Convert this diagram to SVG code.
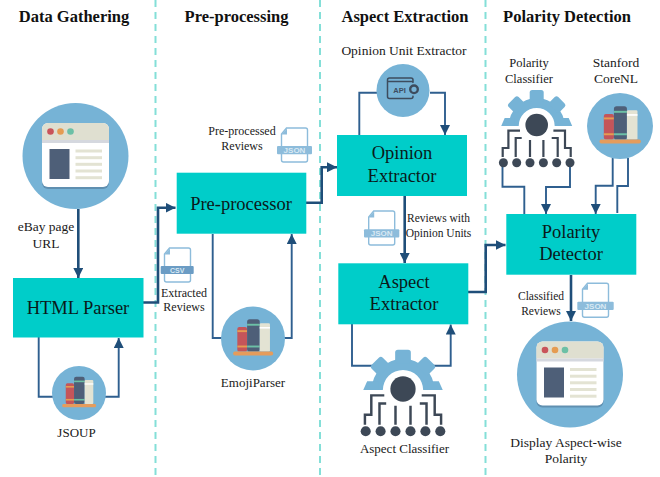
<svg xmlns="http://www.w3.org/2000/svg" width="660" height="477" viewBox="0 0 660 477">
<style>
text{font-family:"Liberation Serif","Times New Roman",serif;fill:#1a1a1a;text-anchor:middle}
.h{font-size:16.500px;font-weight:bold;fill:#111}
.b{font-size:18.500px;fill:#0a1a1a}
.s{font-size:12px}
.m{font-size:13px}
.l{font-size:13.500px}
.box{fill:#00cdc9}
.sep{stroke:#84dfd8;stroke-width:2;stroke-dasharray:7 5;fill:none}
.th{fill:none;stroke:#1f4e79;stroke-width:2.6}
.tn{fill:none;stroke:#2f5f8f;stroke-width:1.9}
.ic{font-family:"Liberation Sans",Arial,sans-serif;font-weight:bold;font-size:8px;fill:#d9e9f3}
.doc{fill:#fff;stroke:#8dbcdb;stroke-width:1.4}
.cir{stroke:#3d4856;stroke-width:2.2;fill:none}
</style>
<defs>
<marker id="a" markerUnits="userSpaceOnUse" markerWidth="11" markerHeight="10" refX="10" refY="5" orient="auto"><path d="M0 0L10 5L0 10Z" fill="#1f4e79"/></marker>
<g id="browser">
<circle r="53" fill="#76b3d6"/>
<rect x="-33.5" y="-31" width="67" height="64" rx="6" fill="#5f8fb0"/>
<rect x="-33.5" y="-33" width="67" height="64" rx="6" fill="#fff"/>
<path d="M-33.5-16V-27a6 6 0 0 1 6-6H27.5a6 6 0 0 1 6 6V-16Z" fill="#dfdfd0"/>
<rect x="-33.5" y="-16" width="67" height="3" fill="#d5d8df"/>
<circle cx="-25" cy="-24.500" r="3.300" fill="#c9545a"/><circle cx="-15" cy="-24.500" r="3.300" fill="#e59c52"/><circle cx="-5" cy="-24.500" r="3.300" fill="#6cc0a6"/>
<rect x="-26" y="-7" width="20" height="30" fill="#4e5f78"/>
<g fill="#e3e3d3"><rect y="-6.500" width="26.500" height="3"/><rect y="0.200" width="26.500" height="3"/><rect y="6.800" width="26.500" height="3"/><rect y="13.500" width="26.500" height="3"/><rect y="20.200" width="26.500" height="3"/></g>
</g>
<g id="books">
<circle r="50" fill="#76b3d6"/>
<rect x="-24.500" y="-18" width="15.300" height="38.500" rx="3" fill="#c4555a"/><rect x="-24.500" y="-13" width="15.300" height="3" fill="#e59c52"/><rect x="-24.500" y="11" width="15.300" height="3" fill="#e59c52"/>
<rect x="-9.200" y="-30" width="19.700" height="50.500" rx="4" fill="#4e5f78"/><rect x="-9.200" y="-23" width="19.700" height="3" fill="#6cc0a6"/><rect x="-9.200" y="11" width="19.700" height="3" fill="#6cc0a6"/>
<rect x="10.500" y="-24" width="16" height="44.500" rx="2" fill="#e3e3d3"/><rect x="10.500" y="-18" width="16" height="2.500" fill="#fff"/>
<rect x="-31" y="20.500" width="62.500" height="6" rx="2.500" fill="#e59c5c"/>
</g>
<g id="gear">
<g fill="#76b3d6">
<path d="M-28 1A28 28 0 0 1 28 1H18A18 18 0 0 0 -18 1Z"/>
<path d="M-35.500 1L-32-7H-22V1ZM35.500 1L32-7H22V1Z"/>
<rect x="-7" y="-35" width="14" height="12" rx="2.500"/>
<rect x="-7" y="-35" width="14" height="12" rx="2.500" transform="rotate(45)"/>
<rect x="-7" y="-35" width="14" height="12" rx="2.500" transform="rotate(-45)"/>
</g>
<circle r="11.300" fill="#3d4856"/>
<path class="cir" d="M-16.700 5.700H-28.300V23H-34V32M-15 13H-21V32M-6.700 15V32M16.700 5.700H28.300V23H34V32M15 13H21V32M6.700 15V32"/>
<g fill="#3d4856"><circle cx="-33.300" cy="37.700" r="4.500"/><circle cx="-20" cy="37.700" r="4.500"/><circle cx="-6.700" cy="37.700" r="4.500"/><circle cx="6.700" cy="37.700" r="4.500"/><circle cx="20" cy="37.700" r="4.500"/><circle cx="33.300" cy="37.700" r="4.500"/></g>
</g>
<g id="file">
<path class="doc" d="M-8-17H11a2 2 0 0 1 2 2V15a2 2 0 0 1-2 2H-11a2 2 0 0 1-2-2V-11Z"/>
<path d="M-7.500-16.500V-10.500H-13Z" fill="#8dbcdb"/>
</g>
</defs>
<g id="separators">
<path class="sep" d="M155.500 0V477M320 0V477M485.500 0V477"/>
</g>
<g id="headers">
<text class="h" x="74" y="22">Data Gathering</text>
<text class="h" x="236.500" y="22">Pre-processing</text>
<text class="h" x="405" y="22">Aspect Extraction</text>
<text class="h" x="567" y="22">Polarity Detection</text>
</g>
<g id="connectors">
<path class="th" d="M78.300 209V278" marker-end="url(#a)"/>
<path class="th" d="M143 302.500H158V207.700H175.500" marker-end="url(#a)"/>
<path class="th" d="M306 202.700H321.700V167.300H337" marker-end="url(#a)"/>
<path class="th" d="M404.700 196V263" marker-end="url(#a)"/>
<path class="th" d="M468 292H485.700V245H505.500" marker-end="url(#a)"/>
<path class="th" d="M571 275V321" marker-end="url(#a)"/>
<path class="tn" d="M38.700 337V396.700H53"/>
<path class="tn" d="M105 396.700H118.700V338" marker-end="url(#a)"/>
<path class="tn" d="M212.700 234V338H222"/>
<path class="tn" d="M284 338H291.700V234" marker-end="url(#a)"/>
<path class="tn" d="M377 92.700H359.300V135"/>
<path class="tn" d="M430 92.700H445V135" marker-end="url(#a)"/>
<path class="tn" d="M352 324V365.700H373"/>
<path class="tn" d="M432 365.700H450.700V324.500" marker-end="url(#a)"/>
<path class="tn" d="M502.500 163V186.700H524.300V214"/>
<path class="tn" d="M570 163V187H546V214" marker-end="url(#a)"/>
<path class="tn" d="M612.700 158V185.700H595.700V214" marker-end="url(#a)"/>
<path class="tn" d="M628 158V186H617.300V213"/>
</g>
<g id="ebay-page"><use href="#browser" transform="translate(75.500 156)"/>
<text class="l" x="46" y="231">eBay page</text><text class="l" x="46" y="248">URL</text></g>
<g id="html-parser"><rect class="box" x="13" y="278" width="130.500" height="59.500"/><text class="b" x="78" y="314">HTML Parser</text></g>
<g id="jsoup"><use href="#books" transform="translate(79 393) scale(.54)"/><text class="m" x="76.500" y="437">JSOUP</text></g>
<g id="csv-extracted"><use href="#file" transform="translate(177.500 265)"/><rect x="160.700" y="266" width="33" height="8" rx="1" fill="#6b9cc4"/><text class="ic" style="font-size:7px" x="177.200" y="272.500">CSV</text>
<text class="s" x="184" y="297">Extracted</text><text class="s" x="184" y="311">Reviews</text></g>
<g id="pre-processor"><rect class="box" x="176.700" y="172.700" width="129.600" height="61"/><text class="b" x="241" y="210">Pre-processor</text></g>
<g id="emoji-parser"><use href="#books" transform="translate(253 338.500) scale(.64)"/><text class="m" x="253" y="387">EmojiParser</text></g>
<g id="json-preprocessed"><use href="#file" transform="translate(294.500 145)"/><rect x="277" y="146" width="35" height="8.300" rx="1" fill="#8dbcdb"/><text class="ic" x="294.500" y="153">JSON</text>
<text class="s" x="242" y="135">Pre-processed</text><text class="s" x="242" y="150">Reviews</text></g>
<g id="opinion-unit-extractor"><text class="l" x="404" y="55">Opinion Unit Extractor</text><circle cx="403" cy="90.500" r="26.500" fill="#76b3d6"/>
<rect x="387.500" y="78" width="25.500" height="20.500" rx="2" fill="none" stroke="#3d4c5e" stroke-width="1.500"/><path d="M387.500 81.500H413" stroke="#3d4c5e" stroke-width="1.500"/>
<text x="399.500" y="92.500" style="font-family:'Liberation Sans',Arial,sans-serif;font-weight:bold;font-size:7.500px;fill:#3d4c5e">API</text>
<circle cx="414" cy="89.300" r="6.500" fill="#76b3d6"/><circle cx="414" cy="89.300" r="3.800" fill="none" stroke="#3d4c5e" stroke-width="2.400"/></g>
<g id="opinion-extractor"><rect class="box" x="337" y="135" width="130" height="61"/><text class="b" x="402" y="159">Opinion</text><text class="b" x="402" y="182">Extractor</text></g>
<g id="json-opinion-units"><use href="#file" transform="translate(381.700 228)"/><rect x="364" y="229.300" width="35.300" height="8.300" rx="1" fill="#8dbcdb"/><text class="ic" x="381.700" y="236.300">JSON</text>
<text x="438.500" y="222" style="font-size:11.500px">Reviews with</text><text x="438.500" y="237" style="font-size:11.500px">Opinion Units</text></g>
<g id="aspect-extractor"><rect class="box" x="338.300" y="263.300" width="130" height="61"/><text class="b" x="404" y="288">Aspect</text><text class="b" x="404" y="310">Extractor</text></g>
<g id="aspect-classifier"><use href="#gear" transform="translate(403 389) scale(1.120)"/><text class="m" x="404.500" y="453">Aspect Classifier</text></g>
<g id="polarity-classifier"><text class="s" x="529" y="67" style="font-size:12.500px">Polarity</text><text class="s" x="529" y="83" style="font-size:12.500px">Classifier</text><use href="#gear" transform="translate(536.700 125)"/></g>
<g id="stanford-corenl"><text class="l" x="616" y="67">Stanford</text><text class="l" x="616" y="83">CoreNL</text><use href="#books" transform="translate(620 126) scale(.66)"/></g>
<g id="polarity-detector"><rect class="box" x="506.300" y="214" width="130" height="60.700"/><text class="b" x="571" y="238">Polarity</text><text class="b" x="571" y="260">Detector</text></g>
<g id="json-classified"><use href="#file" transform="translate(595.500 300.300)"/><rect x="577.300" y="301.700" width="36.400" height="8.300" rx="1" fill="#8dbcdb"/><text class="ic" x="595.500" y="309">JSON</text>
<text x="541" y="300" style="font-size:11.500px">Classified</text><text x="541" y="315" style="font-size:11.500px">Reviews</text></g>
<g id="display-polarity"><use href="#browser" transform="translate(570 374.500)"/><text class="l" x="566" y="447">Display Aspect-wise</text><text class="l" x="566" y="463">Polarity</text></g>
</svg>
